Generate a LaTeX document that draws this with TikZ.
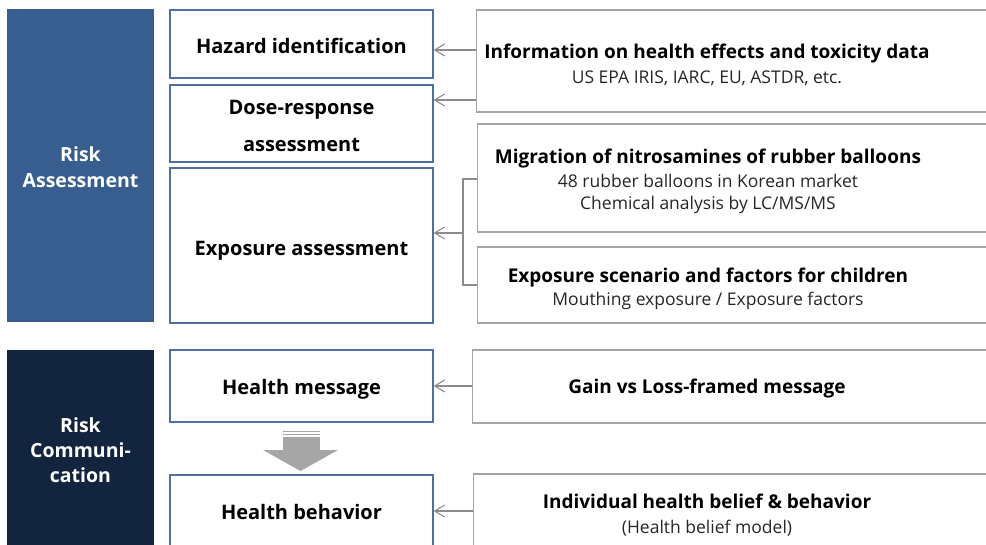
\documentclass[tikz,border=0pt]{standalone}
\usepackage{fontspec}
\setmainfont{Open Sans}
\usetikzlibrary{arrows.meta}
\definecolor{assessblue}{HTML}{375E8F}
\definecolor{commnavy}{HTML}{13243F}
\definecolor{stepedge}{HTML}{4E6FA0}
\definecolor{srcedge}{HTML}{A5A5A5}
\definecolor{linkgray}{HTML}{8C8C8C}
\definecolor{flowgray}{HTML}{A6A6A6}
\definecolor{subtext}{HTML}{262626}
\tikzset{
  phasebox/.style={draw=none, minimum width=147pt},
  phasetext/.style={text=white, font=\fontsize{19.5}{26}\selectfont\bfseries, align=center},
  stepbox/.style={draw=stepedge, line width=1.2pt, fill=white, minimum width=263pt},
  steplabel/.style={font=\fontsize{20}{24}\selectfont\bfseries, inner sep=0pt, text height=14pt, text depth=4.5pt, yshift=-3pt},
  srcbox/.style={draw=srcedge, line width=1.4pt, fill=white, minimum width=520pt, anchor=west},
  srctitle/.style={font=\fontsize{19}{22}\selectfont\bfseries, inner sep=0pt, text height=13.5pt, text depth=4.5pt, yshift=-3pt},
  srcsub/.style={font=\fontsize{17.5}{22}\selectfont, text=subtext, inner sep=0pt, text height=12.5pt, text depth=4pt, yshift=-3pt},
  conn/.style={draw=linkgray, line width=1.1pt, -{Straight Barb[length=10pt,width=12pt,line width=1.1pt]}},
  bracket/.style={draw=linkgray, line width=1.1pt}
}
\begin{document}
\begin{tikzpicture}[x=1pt,y=-1pt]
\clip (0,0) rectangle (986,545);
\fill[white] (0,0) rectangle (986,545);

% phase blocks
\node[phasebox, fill=assessblue, minimum height=313pt] (ra) at (80.5,165.5) {};
\node[phasetext] (ratxt) at (80.5,167) {Risk\\Assessment};
\node[phasebox, fill=commnavy, minimum height=200pt] (rc) at (80.5,450) {};
\node[phasetext, font=\fontsize{19.5}{25}\selectfont\bfseries] (rctxt) at (80.5,450) {Risk\\Communi-\\cation};

% risk assessment steps
\node[stepbox, minimum height=68pt] (hazard) at (301.5,44) {};
\node[steplabel] (hazardt) at (301.5,46) {Hazard identification};
\node[stepbox, minimum height=77pt] (dose) at (301.5,123.5) {};
\node[steplabel] (doset1) at (301.5,107) {Dose-response};
\node[steplabel] (doset2) at (301.5,144) {assessment};
\node[stepbox, minimum height=155pt] (expo) at (301.5,245.5) {};
\node[steplabel] (expot) at (301.5,247.5) {Exposure assessment};

% risk communication steps
\node[stepbox, minimum height=72pt] (msg) at (301.5,386) {};
\node[steplabel] (msgt) at (301.5,387) {Health message};
\node[stepbox, minimum height=74pt] (behav) at (301.5,512) {};
\node[steplabel] (behavt) at (301.5,512) {Health behavior};

% source boxes
\node[srcbox, minimum height=102pt] (info) at (476,61) {};
\node[srctitle] (infot) at (707,51.5) {Information on health effects and toxicity data};
\node[srcsub] (infos) at (707,76) {US EPA IRIS, IARC, EU, ASTDR, etc.};

\node[srcbox, minimum height=108pt] (migr) at (477,178) {};
\node[srctitle] (migrt) at (708,156) {Migration of nitrosamines of rubber balloons};
\node[srcsub] (migrs1) at (708,180) {48 rubber balloons in Korean market};
\node[srcsub] (migrs2) at (708,202) {Chemical analysis by LC/MS/MS};

\node[srcbox, minimum height=76pt] (scen) at (477,285) {};
\node[srctitle] (scent) at (708,275) {Exposure scenario and factors for children};
\node[srcsub] (scens) at (708,298) {Mouthing exposure / Exposure factors};

\node[srcbox, minimum height=73pt] (gain) at (472,386.5) {};
\node[srctitle] (gaint) at (707,386) {Gain vs Loss-framed message};

\node[srcbox, minimum height=80pt] (indiv) at (473,514) {};
\node[srctitle] (indivt) at (707,501) {Individual health belief \& behavior};
\node[srcsub] (indivs) at (707,526) {(Health belief model)};

% links from sources to steps
\draw[conn] (info.west |- 0,50) -- (hazard.east |- 0,50);
\draw[conn] (info.west |- 0,100) -- (dose.east |- 0,100);
\coordinate (jn) at (463,233);
\draw[bracket] (migr.west |- 0,179) -- (463,179) -- (463,285) -- (scen.west |- 0,285);
\draw[conn] (jn) -- (expo.east |- jn);
\draw[conn] (gain.west |- 0,386) -- (msg.east |- 0,386);
\draw[conn] (indiv.west |- 0,511) -- (behav.east |- 0,511);

% block arrow between communication steps
\fill[flowgray] (283,431) rectangle (320,432.3);
\fill[flowgray] (283,434) rectangle (320,435.3);
\fill[flowgray] (283,437) rectangle (320,451);
\fill[flowgray] (263,450) -- (338,450) -- (300.5,471) -- cycle;
\end{tikzpicture}
\end{document}
